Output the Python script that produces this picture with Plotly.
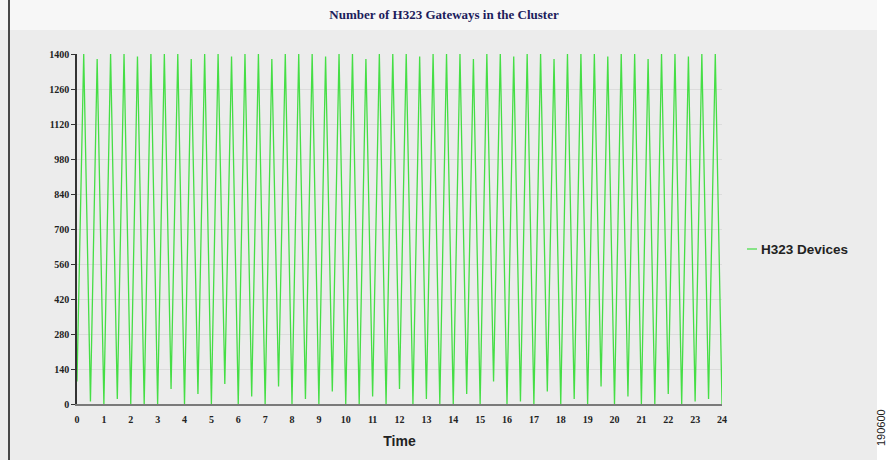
import plotly.graph_objects as go

# sample times (hours), one sample every quarter hour
times = [i / 4 for i in range(97)]

h323_devices = [
    90,
    1400, 10, 1380, 0, 1400, 20, 1400, 0, 1390, 0, 1400, 0, 1400, 60, 1400, 0,
    1380, 40, 1400, 0, 1400, 80, 1390, 0, 1400, 30, 1400, 0, 1380, 70, 1400, 0,
    1400, 20, 1400, 0, 1390, 50, 1400, 0, 1400, 0, 1380, 30, 1400, 0, 1400, 60,
    1400, 0, 1390, 20, 1400, 0, 1400, 0, 1400, 40, 1380, 0, 1400, 90, 1400, 0,
    1390, 10, 1400, 0, 1400, 50, 1380, 0, 1400, 20, 1400, 0, 1400, 70, 1390, 0,
    1400, 30, 1400, 0, 1380, 0, 1400, 40, 1400, 0, 1390, 10, 1400, 20, 1400, 0,
]

y_ticks = [0, 140, 280, 420, 560, 700, 840, 980, 1120, 1260, 1400]
x_ticks = list(range(0, 25))

title_text = "Number of H323 Gateways in the Cluster"
series_name = "H323 Devices"
x_title = "Time"

green = "#45de45"
tick_font = dict(family="Liberation Serif", size=10, color="#222222")

fig = go.Figure()
fig.add_trace(go.Scatter(
    x=times, y=h323_devices, mode="lines", name=series_name,
    line=dict(color=green, width=1.3), showlegend=False,
))

fig.update_layout(
    width=888, height=460,
    margin=dict(l=77, r=166, t=54, b=56),
    paper_bgcolor="#ececec",
    plot_bgcolor="#ececec",
    title=dict(text="<b>" + title_text + "</b>", x=0.5, xanchor="center",
               y=1 - 14 / 460, yanchor="middle",
               font=dict(family="Liberation Serif", size=13, color="#1c1c5c")),
    xaxis=dict(
        range=[0, 24], tickvals=x_ticks, ticktext=[f"<b>{v}</b>" for v in x_ticks],
        tickfont=tick_font, showgrid=False, zeroline=False,
        showline=True, linecolor="#7a7a7a", linewidth=2,
        ticks="", ticklabelstandoff=5,
        title=dict(text="<b>" + x_title + "</b>", standoff=12,
                   font=dict(family="Liberation Sans", size=14, color="#222222")),
    ),
    yaxis=dict(
        range=[0, 1400], tickvals=y_ticks, ticktext=[f"<b>{v}</b>" for v in y_ticks],
        tickfont=tick_font, showgrid=True, gridcolor="#dcdcdc", gridwidth=1,
        zeroline=False, showline=True, linecolor="#333333", linewidth=1.5,
        ticks="outside", ticklen=4, tickcolor="#333333",
    ),
    shapes=[
        # light title band at top
        dict(type="rect", xref="paper", yref="paper", x0=-0.2, x1=1.3,
             y0=1 + 24 / 350, y1=1 + 60 / 350, fillcolor="#f7f7f7",
             line=dict(width=0), layer="below"),
        # white strip on the right edge
        dict(type="rect", xref="paper", yref="paper",
             x0=(877 - 77) / 645, x1=(890 - 77) / 645, y0=-0.2, y1=1.2,
             fillcolor="#ffffff", line=dict(width=0), layer="below"),
        # black border line on the left
        dict(type="line", xref="paper", yref="paper",
             x0=(9 - 77) / 645, x1=(9 - 77) / 645, y0=-0.2, y1=1.2,
             line=dict(color="#111111", width=1.5)),
        # legend sample line
        dict(type="line", xref="paper", yref="paper",
             x0=(747 - 77) / 645, x1=(757 - 77) / 645,
             y0=(404 - 249) / 350, y1=(404 - 249) / 350,
             line=dict(color=green, width=1.2)),
    ],
    annotations=[
        dict(text="<b>" + series_name + "</b>", xref="paper", yref="paper",
             x=(759 - 77) / 645, y=(404 - 249) / 350, xanchor="left", yanchor="middle",
             showarrow=False,
             font=dict(family="Liberation Sans", size=13.5, color="#222222")),
        dict(text="190600", xref="paper", yref="paper",
             x=(881 - 77) / 645, y=(404 - 428) / 350, textangle=-90,
             xanchor="center", yanchor="middle", showarrow=False,
             font=dict(family="Liberation Sans", size=11, color="#222222")),
    ],
)

fig.write_html("out.html", config={"displayModeBar": False},
               post_script="document.body.style.margin='0px';")
